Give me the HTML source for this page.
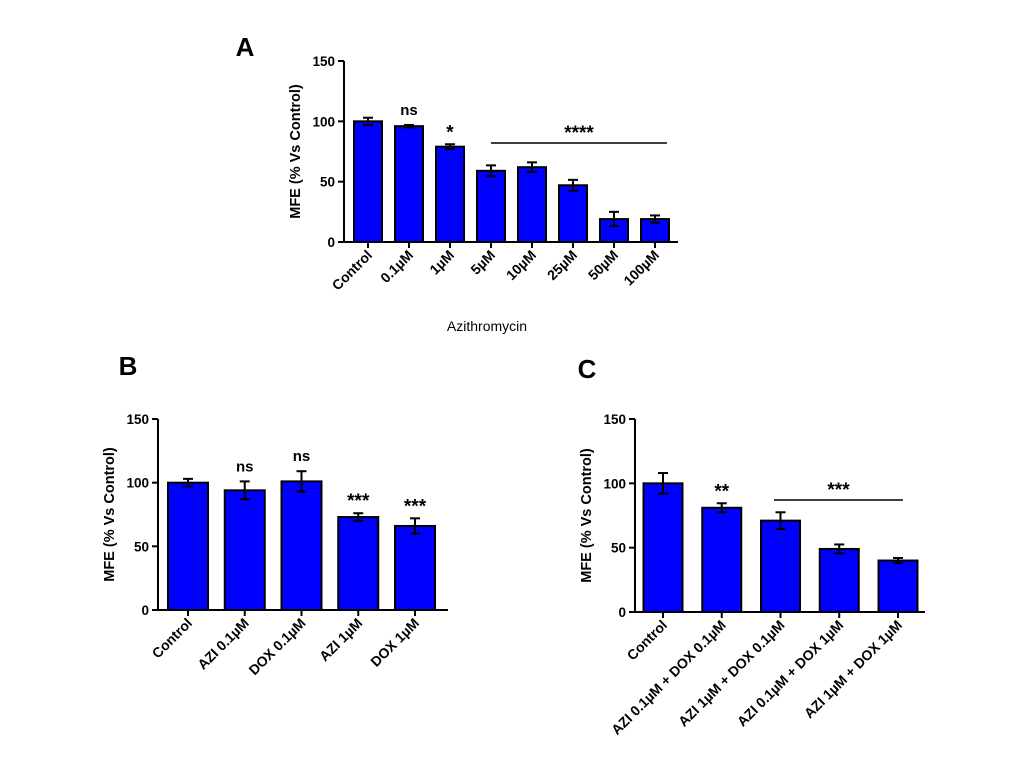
<!DOCTYPE html>
<html><head><meta charset="utf-8"><style>
body{margin:0;background:#fff;}
svg{display:block;font-family:"Liberation Sans",Arial,sans-serif;}
</style></head><body>
<svg id="fig" width="1020" height="765">
<text x="245" y="56" font-size="26" font-weight="bold" text-anchor="middle">A</text>
<text x="128" y="375" font-size="26" font-weight="bold" text-anchor="middle">B</text>
<text x="587" y="378" font-size="26" font-weight="bold" text-anchor="middle">C</text>
<text x="487" y="331" font-size="14" text-anchor="middle">Azithromycin</text>
</svg>
<script>
const catsA=["Control","0.1µM","1µM","5µM","10µM","25µM","50µM","100µM"];
const valsA=[100,96,79,59,62,47,19,19];
const errA=[3,1,2,4.5,4,4.5,6,3];
const catsB=["Control","AZI 0.1µM","DOX 0.1µM","AZI 1µM","DOX 1µM"];
const valsB=[100,94,101,73,66];
const errB=[3,7,8,3,6];
const catsC=["Control","AZI 0.1µM + DOX 0.1µM","AZI 1µM + DOX 0.1µM","AZI 0.1µM + DOX 1µM","AZI 1µM + DOX 1µM"];
const valsC=[100,81,71,49,40];
const errC=[8,3.5,6.5,3.5,2];
const yTicks=[0,50,100,150];
const sigA=["","ns","*","","","","",""];
const sigB=["","ns","ns","***","***"];
const sigC=["","**","","",""];

const NS="http://www.w3.org/2000/svg";
const svg=document.getElementById('fig');
function mk(tag,attrs,parent){const e=document.createElementNS(NS,tag);for(const k in attrs)e.setAttribute(k,attrs[k]);(parent||svg).appendChild(e);return e;}

function panel(p,cats,vals,errs,sigs,bracket){
  const g=mk('g',{});
  
  
  const y=v=>p.y0-(v/150)*(p.y0-p.y150);
  const x=i=>p.c0+i*p.step;
  mk('line',{x1:p.ax,y1:p.y150,x2:p.ax,y2:p.y0+1,stroke:'#000','stroke-width':2},g);
  mk('line',{x1:p.ax,y1:p.y0,x2:p.xend,y2:p.y0,stroke:'#000','stroke-width':2},g);
  yTicks.forEach(t=>{
    mk('line',{x1:p.ax-6,y1:y(t),x2:p.ax,y2:y(t),stroke:'#000','stroke-width':2},g);
    const tx=mk('text',{x:p.ax-9,y:y(t)+5,'font-size':13.5,'font-weight':'bold','text-anchor':'end'},g);
    tx.textContent=t;
    
    
  });
  const yt=mk('text',{x:0,y:0,'font-size':14.5,'font-weight':'bold','text-anchor':'middle',transform:`translate(${p.ax-44},${(p.y0+p.y150)/2}) rotate(-90)`},g);
  yt.textContent='MFE (% Vs Control)';
  
  
  cats.forEach((c,i)=>{
    const cx=x(i),v=vals[i],e=errs[i];
    const r=mk('rect',{x:cx-p.bw/2,y:y(v),width:p.bw,height:p.y0-y(v),fill:'#0000ff',stroke:'#000','stroke-width':2},g);
    
    
    mk('line',{x1:cx,y1:y(v+e),x2:cx,y2:y(v-e),stroke:'#000','stroke-width':2},g);
    mk('line',{x1:cx-5,y1:y(v+e),x2:cx+5,y2:y(v+e),stroke:'#000','stroke-width':2},g);
    mk('line',{x1:cx-5,y1:y(v-e),x2:cx+5,y2:y(v-e),stroke:'#000','stroke-width':2},g);
    mk('line',{x1:cx,y1:p.y0,x2:cx,y2:p.y0+6,stroke:'#000','stroke-width':2},g);
    const lt=mk('text',{x:0,y:0,'font-size':14,'font-weight':'bold','text-anchor':'end',transform:`translate(${cx+5},${p.y0+14}) rotate(-45)`},g);
    lt.textContent=c;
    
    
    if(sigs[i]){
      const star=sigs[i].indexOf('*')>=0;
      const s=mk('text',{x:cx,y:y(v+e)-(star?6:10),'font-size':star?19:15,'font-weight':'bold','text-anchor':'middle'},g);
      s.textContent=sigs[i];
      
      
    }
  });
  if(bracket){
    mk('line',{x1:bracket.x1,y1:bracket.y,x2:bracket.x2,y2:bracket.y,stroke:'#000','stroke-width':1.5},g);
    const s=mk('text',{x:(bracket.x1+bracket.x2)/2,y:bracket.y-4,'font-size':19,'font-weight':'bold','text-anchor':'middle'},g);
    s.textContent=bracket.t;
    
    
  }
}
panel({name:'panel-a',ax:344,y0:242,y150:61,xend:678,c0:368,step:41,bw:28},catsA,valsA,errA,sigA,{x1:491,x2:667,y:143,t:'****'});
panel({name:'panel-b',ax:158,y0:610,y150:419,xend:448,c0:188,step:56.75,bw:40},catsB,valsB,errB,sigB,null);
panel({name:'panel-c',ax:635,y0:612,y150:419,xend:925,c0:663,step:58.75,bw:39},catsC,valsC,errC,sigC,{x1:774,x2:903,y:500,t:'***'});
</script>
</body></html>
